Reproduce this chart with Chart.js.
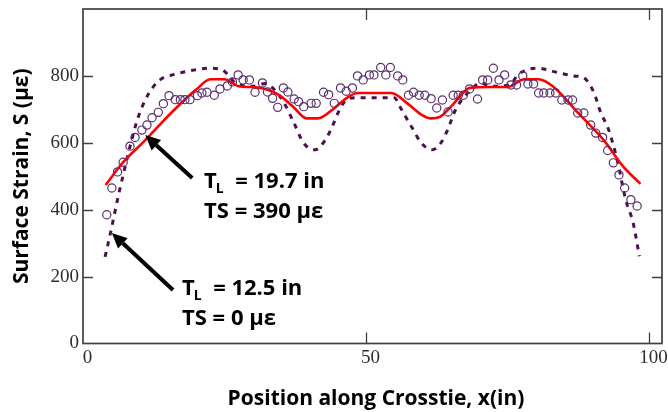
<!DOCTYPE html>
<html>
<head>
<meta charset="utf-8">
<script src="https://cdn.jsdelivr.net/npm/chart.js@4.4.0/dist/chart.umd.min.js"></script>
<style>
  html, body { margin: 0; padding: 0; background: #fff; }
</style>
</head>
<body>
<canvas id="myChart" width="668" height="412"></canvas>
<script>
// measured surface strain (open circles)
const measX = [4.2, 5.1, 6.1, 7.1, 8.3, 9.2, 10.4, 11.3, 12.2, 13.3, 14.2, 15.2, 16.3, 17.2, 18.0, 18.9,
  20.2, 21.0, 21.9, 23.2, 24.2, 25.5, 26.4, 27.4, 28.3, 29.4, 30.4, 31.7, 32.6, 33.5, 34.4, 35.4,
  36.2, 37.3, 38.1, 39.0, 40.3, 41.2, 42.5, 43.4, 44.4, 45.5, 46.5, 47.6, 48.5, 49.5, 50.6, 51.4,
  52.6, 53.5, 54.3, 55.6, 56.5, 57.5, 58.4, 59.4, 60.4, 61.5, 62.5, 63.5, 64.5, 65.4, 66.3, 67.2,
  68.3, 69.7, 70.6, 71.5, 72.5, 73.5, 74.5, 75.6, 76.6, 77.7, 78.6, 79.6, 80.5, 81.4, 82.5, 83.5,
  84.6, 85.7, 86.5, 87.4, 88.5, 89.7, 90.6, 91.8, 92.7, 93.7, 94.7, 95.7, 96.8, 97.9];
const measS = [385, 465, 513, 542, 590, 616, 638, 653, 675, 691, 717, 741, 729, 729, 729, 729,
  741, 749, 751, 742, 761, 770, 782, 803, 788, 788, 751, 779, 752, 733, 706, 764,
  752, 731, 723, 708, 718, 718, 751, 744, 718, 764, 754, 764, 800, 788, 803, 803,
  825, 803, 825, 800, 788, 742, 751, 742, 742, 732, 704, 728, 692, 742, 742, 742,
  761, 731, 788, 788, 823, 788, 803, 773, 773, 800, 776, 776, 749, 749, 749, 749,
  728, 728, 728, 689, 689, 653, 629, 616, 577, 540, 504, 465, 430, 411];

// red solid model curve
const redX = [4, 7, 11, 14, 17, 20, 22.5, 25, 27.5, 31, 34.5, 37, 39.5, 41.5, 44, 46.5, 48.5,
  54.5, 57.3, 60, 61.5, 63, 65, 68.5, 72, 75, 78, 80.5, 83, 87.5, 92, 95.5, 98.5];
const redS = [474, 540, 608, 662, 713, 759, 790, 790, 769, 765, 744, 710, 673, 673, 698, 733, 749,
  749, 718, 682, 673, 677, 708, 765, 767, 767, 790, 790, 769, 689, 608, 528, 477];

// dashed model curve
const dashX = [3.9, 4.9, 6.2, 7.1, 8.4, 9.7, 11.5, 13.6, 16.3, 19.8, 22.3, 24.6, 25.8, 27, 30, 32.2,
  33.5, 35.4, 37.2, 39, 41, 42.8, 44, 45.5, 46.9, 48.5, 55, 56, 57.3, 58.4, 59.6, 61.7, 63.2,
  64.4, 65.8, 68.5, 70.3, 72, 75.5, 76.8, 80.3, 83.9, 86.7, 88.5, 90.3, 91.5, 92.7, 93.6, 94.5,
  95.9, 97.2, 98, 98.3];
const dashS = [259, 334, 438, 504, 595, 674, 744, 788, 805, 818, 823, 818, 800, 777, 769, 777,
  764, 723, 662, 599, 579, 608, 647, 705, 733, 735, 735, 708, 669, 638, 603, 579, 599,
  638, 698, 758, 779, 769, 774, 803, 823, 810, 800, 794, 749, 689, 647, 599, 540,
  429, 361, 289, 261];

const xTicks = [0, 50, 100];
const yTicks = [0, 200, 400, 600, 800];

// callouts: label values, text anchor, arrow tip and tail (data units)
const callouts = [
  { tl: '19.7', ts: '390', at: [21.4, 465], tip: [11.0, 623], tail: [19.3, 495] },
  { tl: '12.5', ts: '0', at: [17.5, 145], tip: [5.1, 330], tail: [15.9, 160] }
];

const pts = (xs, ys) => xs.map((x, i) => ({ x: x, y: ys[i] }));

const decor = {
  id: 'decor',
  afterDraw(chart) {
    const ctx = chart.ctx;
    const a = chart.chartArea;
    const sx = chart.scales.x, sy = chart.scales.y;
    ctx.save();
    // frame
    ctx.strokeStyle = '#404040';
    ctx.lineWidth = 1.7;
    ctx.strokeRect(a.left, a.top, a.right - a.left, a.bottom - a.top);
    // inward ticks
    ctx.lineWidth = 1.3;
    ctx.beginPath();
    yTicks.forEach(v => {
      if (v === 0) return;
      const py = Math.round(sy.getPixelForValue(v)) + 0.5;
      ctx.moveTo(a.left, py); ctx.lineTo(a.left + 10, py);
      ctx.moveTo(a.right, py); ctx.lineTo(a.right - 10, py);
    });
    xTicks.forEach(v => {
      if (v === 0) return;
      const px = Math.round(sx.getPixelForValue(v)) + 0.5;
      ctx.moveTo(px, a.bottom); ctx.lineTo(px, a.bottom - 11);
      ctx.moveTo(px, a.top); ctx.lineTo(px, a.top + 11);
    });
    ctx.stroke();

    // callouts
    ctx.fillStyle = '#000';
    ctx.strokeStyle = '#000';
    callouts.forEach(c => {
      const tx = sx.getPixelForValue(c.tip[0]), ty = sy.getPixelForValue(c.tip[1]);
      const bx = sx.getPixelForValue(c.tail[0]), by = sy.getPixelForValue(c.tail[1]);
      const ang = Math.atan2(ty - by, tx - bx);
      const headLen = 15, headW = 7;
      const hx = tx - headLen * Math.cos(ang), hy = ty - headLen * Math.sin(ang);
      ctx.lineWidth = 4;
      ctx.beginPath(); ctx.moveTo(bx, by); ctx.lineTo(hx, hy); ctx.stroke();
      ctx.beginPath();
      ctx.moveTo(tx, ty);
      ctx.lineTo(hx + headW * Math.sin(ang), hy - headW * Math.cos(ang));
      ctx.lineTo(hx - headW * Math.sin(ang), hy + headW * Math.cos(ang));
      ctx.closePath(); ctx.fill();

      const x0 = sx.getPixelForValue(c.at[0]);
      const y0 = sy.getPixelForValue(c.at[1]);
      ctx.textAlign = 'left'; ctx.textBaseline = 'alphabetic';
      ctx.font = 'bold 22px "Open Sans"';
      ctx.fillText('T', x0, y0);
      let w = ctx.measureText('T').width - 1;
      ctx.font = 'bold 14px "Open Sans"';
      ctx.fillText('L', x0 + w, y0 + 5);
      w += ctx.measureText('L').width;
      ctx.font = 'bold 22px "Open Sans"';
      ctx.fillText('  = ' + c.tl + ' in', x0 + w, y0);
      ctx.fillText('TS = ' + c.ts + ' \u03bc\u03b5', x0, y0 + 30);
    });

    // axis titles
    ctx.fillStyle = '#000';
    ctx.font = 'bold 21px "Open Sans"';
    ctx.textAlign = 'center'; ctx.textBaseline = 'middle';
    ctx.fillText('Position along Crosstie, x(in)', 376, 399);
    ctx.translate(22, (a.top + a.bottom) / 2);
    ctx.rotate(-Math.PI / 2);
    ctx.fillText('Surface Strain, S (\u03bc\u03b5)', 0, 0);
    ctx.restore();
  }
};

new Chart(document.getElementById('myChart').getContext('2d'), {
  type: 'scatter',
  data: {
    datasets: [
      {
        label: 'Measured',
        data: pts(measX, measS),
        showLine: false,
        pointStyle: 'circle',
        pointRadius: 4.1,
        pointBorderWidth: 1.2,
        pointBorderColor: '#5a2f6e',
        pointBackgroundColor: 'rgba(0,0,0,0)',
        order: 1
      },
      {
        label: 'Model',
        data: pts(redX, redS),
        showLine: true,
        borderColor: '#ff0000',
        borderWidth: 2.6,
        pointRadius: 0,
        cubicInterpolationMode: 'monotone',
        order: 2
      },
      {
        label: 'Model dashed',
        data: pts(dashX, dashS),
        showLine: true,
        borderColor: '#4a1050',
        borderWidth: 3,
        borderDash: [5, 6],
        pointRadius: 0,
        cubicInterpolationMode: 'monotone',
        order: 3
      }
    ]
  },
  options: {
    responsive: false,
    animation: false,
    devicePixelRatio: 1,
    layout: { padding: { top: 9, right: 6, left: 0, bottom: 0 } },
    plugins: { legend: { display: false }, tooltip: { enabled: false } },
    scales: {
      x: {
        type: 'linear', min: 0, max: 102.3,
        afterBuildTicks: s => { s.ticks = xTicks.map(v => ({ value: v })); },
        afterFit: s => { s.height = 68.5; s.paddingLeft = 0; s.paddingRight = 0; },
        grid: { display: false, drawTicks: false },
        border: { display: false },
        ticks: { font: { family: 'Liberation Serif', size: 19 }, color: '#2e2e2e', padding: 3, labelOffset: 4.5, maxRotation: 0 }
      },
      y: {
        type: 'linear', min: 0, max: 1000,
        afterBuildTicks: s => { s.ticks = yTicks.map(v => ({ value: v })); },
        afterFit: s => { s.width = 83; s.paddingTop = 0; s.paddingBottom = 0; },
        grid: { display: false, drawTicks: false },
        border: { display: false },
        ticks: { font: { family: 'Liberation Serif', size: 19 }, color: '#2e2e2e', padding: 4 }
      }
    }
  },
  plugins: [decor]
});
</script>
</body>
</html>
